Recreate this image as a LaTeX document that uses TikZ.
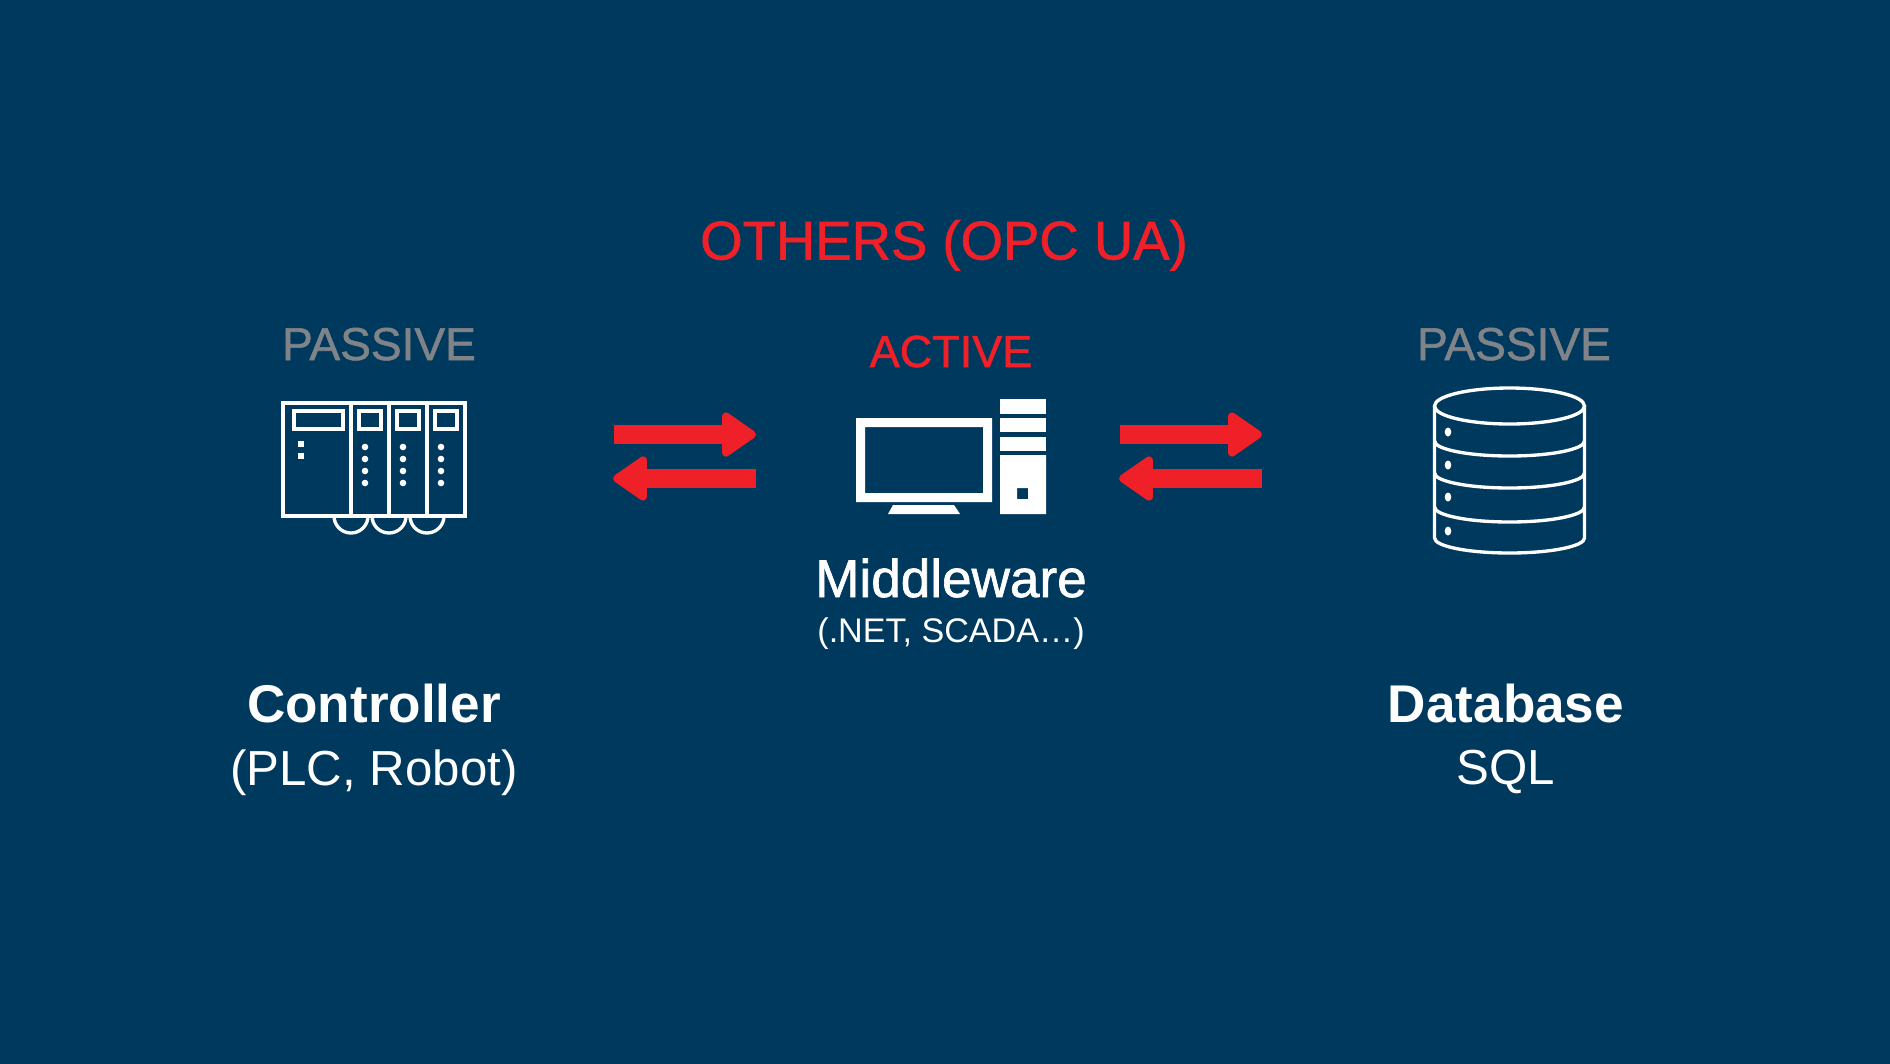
\documentclass[tikz,border=0pt]{standalone}
\usepackage{fontspec}
\setmainfont{Liberation Sans}
\newfontfamily\mediumface[FakeBold=1.2]{Liberation Sans}
\usetikzlibrary{arrows.meta,positioning}
\definecolor{bgblue}{RGB}{0,57,94}
\definecolor{arrowred}{RGB}{239,32,39}
\definecolor{passivegray}{RGB}{128,132,136}
\tikzset{
  headline/.style={inner sep=0pt, anchor=base, text=arrowred, font=\mediumface\fontsize{15.5pt}{18pt}\selectfont},
  state/.style={inner sep=0pt, anchor=base, text=passivegray, font=\mediumface\fontsize{13.1pt}{15pt}\selectfont},
  title/.style={inner sep=0pt, anchor=base, text=white, font=\mediumface\fontsize{15.1pt}{18pt}\selectfont},
  subtitle/.style={inner sep=0pt, text=white, font=\fontsize{14pt}{17pt}\selectfont},
  icon/.style={draw=white, line width=.95pt},
  swap arrow/.style={draw=arrowred, line width=.19cm,
    -{Triangle[round, length=.37cm, width=.49cm, line width=2.2pt, fill=arrowred]}}
}
\begin{document}
\begin{tikzpicture}[x=.01cm, y=-.01cm]
  \useasboundingbox (0,0) rectangle (1890,1063);
  \fill[bgblue] (-5,-5) rectangle (1895,1068);

  \draw node[headline] (others) at (944,259.5) {OTHERS (OPC UA)};
  \draw node[state] (pass1) at (379,360) {PASSIVE};
  \draw node[state] (pass2) at (1514,360) {PASSIVE};
  \draw node[state, text=arrowred, font=\mediumface\fontsize{12.8pt}{15pt}\selectfont] (act) at (951,367) {ACTIVE};

  \draw node[title, font=\bfseries\fontsize{15.1pt}{18pt}\selectfont] (ctrl) at (374,722) {Controller};
  \draw node[subtitle, below = .26cm of ctrl] (ctrlsub) {(PLC, Robot)};
  \draw node[title, font=\bfseries\fontsize{15.1pt}{18pt}\selectfont] (db) at (1506,722) {Database};
  \draw node[subtitle, below = .26cm of db] (dbsub) {SQL};
  \draw node[title] (mid) at (951,597) {Middleware};
  \draw node[subtitle, font=\fontsize{9.7pt}{12pt}\selectfont, below = .19cm of mid] (midsub) {(.NET, SCADA…)};

  % controller
  \draw[icon] (283,403) rectangle (465,516);
  \draw[icon] (351,403) -- (351,516);
  \draw[icon] (389,403) -- (389,516);
  \draw[icon] (427,403) -- (427,516);
  \draw[icon] (294,411) rectangle (343,429);
  \draw[icon] (359,411) rectangle (381,429);
  \draw[icon] (397,411) rectangle (419,429);
  \draw[icon] (435,411) rectangle (457,429);
  \fill[white] (298,441) rectangle (304,447);
  \fill[white] (298,453) rectangle (304,459);
  \fill[white] (365,447) circle (3.3);
  \fill[white] (365,459) circle (3.3);
  \fill[white] (365,471) circle (3.3);
  \fill[white] (365,483) circle (3.3);
  \fill[white] (403,447) circle (3.3);
  \fill[white] (403,459) circle (3.3);
  \fill[white] (403,471) circle (3.3);
  \fill[white] (403,483) circle (3.3);
  \fill[white] (441,447) circle (3.3);
  \fill[white] (441,459) circle (3.3);
  \fill[white] (441,471) circle (3.3);
  \fill[white] (441,483) circle (3.3);
  \draw[icon] (334,516) arc[start angle=180, end angle=0, radius=17];
  \draw[icon] (372,516) arc[start angle=180, end angle=0, radius=17];
  \draw[icon] (410,516) arc[start angle=180, end angle=0, radius=17];

  % middleware pc
  \fill[white, even odd rule] (856,418) rectangle (992,502) (865,427) rectangle (983,493);
  \fill[white] (888,514) -- (893,505) -- (954,505) -- (960,514) -- cycle;
  \fill[white] (1000,399) rectangle (1046,414);
  \fill[white] (1000,418) rectangle (1046,432);
  \fill[white] (1000,437) rectangle (1046,451);
  \fill[white, even odd rule] (1000,455) rectangle (1046,514) (1017,488) rectangle (1028,499);

  % database
  \draw[icon] (1509.5,406) ellipse[x radius=75, y radius=18];
  \draw[icon] (1434.5,406) -- (1434.5,538) arc[start angle=180, end angle=360, x radius=75, y radius=-15] -- (1584.5,406);
  \draw[icon] (1434.5,441) arc[start angle=180, end angle=360, x radius=75, y radius=-15];
  \draw[icon] (1434.5,473) arc[start angle=180, end angle=360, x radius=75, y radius=-15];
  \draw[icon] (1434.5,507) arc[start angle=180, end angle=360, x radius=75, y radius=-15];
  \fill[white] (1448,432) ellipse[x radius=3.3, y radius=4.5];
  \fill[white] (1448,465) ellipse[x radius=3.3, y radius=4.5];
  \fill[white] (1448,497) ellipse[x radius=3.3, y radius=4.5];
  \fill[white] (1448,531) ellipse[x radius=3.3, y radius=4.5];

  % arrows
  \coordinate (r1) at (614,434.5);
  \coordinate (r2) at (756,434.5);
  \coordinate (l1) at (756,478.5);
  \coordinate (l2) at (613,478.5);
  \coordinate (r3) at (1120,434.5);
  \coordinate (r4) at (1262,434.5);
  \coordinate (l3) at (1262,478.5);
  \coordinate (l4) at (1119,478.5);
  \draw[swap arrow] (r1) -- (r2);
  \draw[swap arrow] (l1) -- (l2);
  \draw[swap arrow] (r3) -- (r4);
  \draw[swap arrow] (l3) -- (l4);
\end{tikzpicture}
\end{document}
